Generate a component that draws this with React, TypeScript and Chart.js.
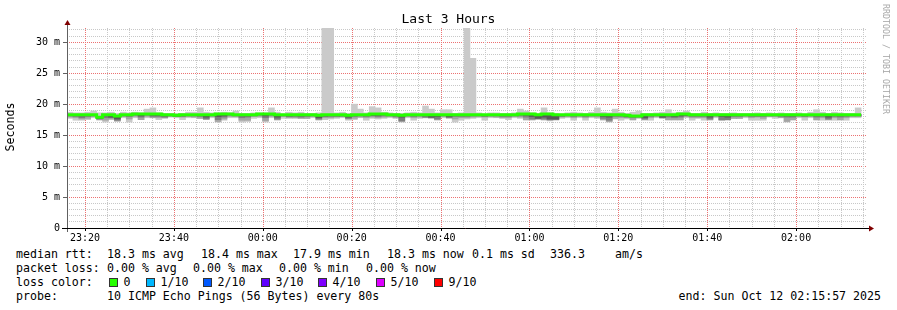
import React, { useEffect, useRef } from 'react';
import { Chart, registerables } from 'chart.js';

Chart.register(...registerables);

const FONT = '"DejaVu Sans Mono", "Liberation Mono", monospace';

// ---- time axis (seconds after graph start 23:15:57) ----
const graphSpanSeconds = 10800;
const stepSeconds = 80;
const firstGridSeconds = 243; // 23:20:00
const gridStepSeconds = 300; // 5 minutes
const labelEvery = 4; // label every 20 minutes
const xTickLabels = ['23:20', '23:40', '00:00', '00:20', '00:40', '01:00', '01:20', '01:40', '02:00'];

// ---- y axis ----
const yTickLabels = ['0', '5 m', '10 m', '15 m', '20 m', '25 m', '30 m'];
const yLabelStep = 5;

// ---- data (ms), one value per 80 s step ----
const rttMedian = [
  18.3, 18.3, 18.3, 18.3, 18.3, 17.9, 18.3, 18.3, 18.1, 18.3,
  18.3, 18.4, 18.4, 18.4, 18.4, 18.4, 18.3, 18.3, 18.2, 18.3,
  18.3, 18.3, 18.3, 18.3, 18.3, 18.4, 18.4, 18.4, 18.3, 18.3,
  18.3, 18.3, 18.4, 18.4, 18.4, 18.3, 18.3, 18.3, 18.3, 18.3,
  18.3, 18.3, 18.2, 18.3, 18.3, 18.3, 18.3, 18.2, 18.3, 18.3,
  18.3, 18.4, 18.4, 18.4, 18.3, 18.3, 18.2, 18.3, 18.3, 18.3,
  18.3, 18.3, 18.3, 18.3, 18.3, 18.3, 18.3, 18.3, 18.3, 18.3,
  18.3, 18.3, 18.3, 18.3, 18.3, 18.3, 18.4, 18.4, 18.4, 18.3,
  18.4, 18.4, 18.3, 18.3, 18.3, 18.3, 18.3, 18.3, 18.3, 18.3,
  18.3, 18.3, 18.3, 18.3, 18.2, 18.1, 18.1, 18.3, 18.3, 18.3,
  18.3, 18.3, 18.3, 18.4, 18.4, 18.3, 18.3, 18.3, 18.3, 18.3,
  18.3, 18.3, 18.3, 18.3, 18.3, 18.3, 18.3, 18.3, 18.3, 18.3,
  18.3, 18.3, 18.3, 18.3, 18.3, 18.3, 18.3, 18.3, 18.3, 18.3,
  18.3, 18.3, 18.3, 18.3,
];
const rttMax = [
  18.7, 18.6, 18.6, 18.7, 18.9, 18.6, 18.6, 18.7, 18.5, 18.7,
  18.6, 18.7, 18.6, 19.2, 19.4, 18.6, 18.5, 18.5, 18.5, 18.5,
  18.7, 18.7, 19.4, 18.7, 18.6, 18.6, 18.7, 18.6, 18.9, 18.5,
  18.5, 18.6, 18.6, 18.6, 19.4, 18.7, 18.4, 18.7, 18.6, 18.7,
  18.5, 18.5, 18.6, 32.3, 32.3, 18.6, 18.7, 18.5, 20.0, 19.2,
  18.6, 19.6, 19.4, 18.7, 18.6, 18.5, 18.5, 18.6, 18.7, 18.6,
  19.7, 19.2, 18.6, 19.1, 19.1, 18.5, 18.6, 32.3, 27.4, 18.6,
  18.4, 18.6, 18.6, 18.5, 18.5, 18.6, 19.2, 18.9, 18.6, 18.5,
  19.4, 18.6, 18.5, 18.4, 18.6, 18.7, 18.6, 18.5, 18.7, 19.4,
  18.7, 18.6, 19.2, 18.7, 18.5, 18.7, 18.9, 18.5, 18.5, 18.6,
  18.7, 19.1, 18.6, 18.7, 18.9, 18.5, 18.5, 18.7, 18.5, 18.6,
  18.5, 18.5, 18.6, 18.5, 18.5, 18.5, 18.6, 18.5, 18.6, 18.5,
  18.6, 18.5, 18.5, 18.6, 18.4, 18.7, 19.1, 18.7, 18.5, 18.7,
  18.6, 18.5, 18.5, 19.4,
];
const rttMin = [
  17.7, 17.4, 17.4, 17.5, 17.8, 17.4, 17.1, 17.5, 17.2, 17.8,
  17.1, 17.8, 17.5, 17.8, 17.8, 17.5, 17.7, 17.9, 17.8, 17.5,
  17.8, 17.8, 17.7, 17.5, 17.8, 17.1, 17.4, 17.8, 17.8, 17.1,
  17.2, 17.7, 17.8, 17.1, 17.8, 17.4, 17.7, 17.7, 17.7, 17.7,
  17.7, 17.8, 17.4, 17.5, 17.6, 17.7, 17.8, 17.4, 17.5, 17.8,
  17.4, 17.7, 17.6, 17.7, 17.8, 17.7, 17.1, 17.8, 17.4, 17.7,
  17.8, 17.7, 17.4, 17.8, 17.7, 17.1, 17.4, 17.6, 17.7, 17.8,
  17.4, 17.8, 17.8, 17.7, 17.5, 17.8, 17.7, 17.4, 17.4, 17.5,
  17.4, 17.3, 17.4, 17.7, 17.8, 17.4, 17.8, 17.4, 17.8, 17.7,
  17.4, 17.1, 17.6, 17.4, 17.6, 17.4, 17.7, 17.4, 17.4, 17.8,
  17.7, 17.4, 17.4, 17.4, 17.8, 17.4, 17.7, 17.4, 17.4, 17.8,
  17.4, 17.4, 17.7, 17.7, 17.8, 17.4, 17.4, 17.4, 17.9, 17.7,
  17.8, 17.1, 17.4, 17.8, 17.4, 17.8, 17.4, 17.4, 17.4, 17.4,
  17.4, 17.4, 17.8, 17.8,
];
const rttLow2 = [
  17.9, 17.8, 17.6, 17.7, 18.0, 17.5, 17.4, 17.6, 17.3, 18.0,
  17.6, 18.0, 17.5, 18.0, 17.8, 17.8, 17.8, 18.0, 18.0, 17.9,
  18.0, 17.9, 17.7, 17.6, 18.0, 17.2, 17.6, 18.0, 18.0, 17.4,
  17.4, 18.0, 18.0, 17.3, 18.0, 17.5, 18.0, 17.8, 17.8, 17.7,
  17.7, 18.0, 17.5, 17.8, 17.8, 17.9, 18.0, 17.6, 17.7, 17.9,
  17.8, 17.9, 17.8, 17.9, 18.0, 17.8, 17.2, 18.0, 17.8, 17.9,
  17.8, 17.8, 17.5, 18.0, 17.8, 17.6, 17.8, 17.8, 17.9, 18.0,
  17.9, 18.0, 17.9, 17.8, 17.8, 18.0, 17.9, 17.5, 17.5, 17.6,
  17.5, 17.4, 17.5, 17.9, 18.0, 17.8, 18.0, 17.8, 18.0, 17.9,
  17.5, 17.2, 17.7, 17.8, 17.8, 17.5, 17.8, 17.5, 17.8, 18.0,
  17.8, 17.5, 17.5, 17.5, 18.0, 17.8, 17.8, 17.8, 17.5, 18.0,
  17.4, 17.5, 17.7, 17.7, 18.0, 17.8, 17.9, 17.7, 18.0, 18.0,
  17.8, 17.2, 17.5, 18.0, 17.9, 18.0, 17.5, 17.8, 17.5, 17.8,
  17.5, 17.8, 18.0, 18.0,
];
const rttLow3 = [
  18.1, 18.0, 17.8, 18.0, 18.1, 17.6, 17.8, 17.8, 17.4, 18.1,
  18.0, 18.2, 17.9, 18.2, 18.0, 18.0, 17.9, 18.1, 18.0, 18.0,
  18.1, 18.1, 18.0, 17.6, 18.1, 17.5, 17.9, 18.2, 18.1, 17.8,
  17.9, 18.1, 18.2, 17.8, 18.2, 17.6, 18.1, 18.0, 18.0, 17.9,
  18.0, 18.1, 17.6, 18.0, 18.0, 18.0, 18.1, 17.7, 18.0, 18.1,
  18.0, 18.1, 18.0, 18.1, 18.1, 18.0, 17.3, 18.1, 18.0, 18.1,
  17.9, 17.8, 17.6, 18.1, 17.8, 18.0, 18.0, 18.0, 18.1, 18.1,
  18.0, 18.1, 18.1, 18.0, 18.0, 18.1, 18.1, 17.9, 17.6, 17.7,
  17.6, 17.5, 17.5, 18.0, 18.1, 18.0, 18.1, 18.0, 18.1, 18.1,
  17.7, 17.4, 18.0, 18.0, 17.9, 17.8, 17.9, 17.6, 18.0, 18.1,
  17.8, 17.9, 17.8, 17.9, 18.1, 18.0, 18.0, 18.0, 17.6, 18.1,
  17.5, 17.5, 18.0, 18.0, 18.1, 18.0, 18.0, 18.0, 18.1, 18.1,
  18.0, 17.9, 17.9, 18.1, 18.0, 18.1, 17.9, 18.0, 17.6, 18.0,
  17.9, 18.0, 18.1, 18.1,
];
const rttLow4 = [
  18.2, 18.2, 18.1, 18.2, 18.2, 17.7, 18.1, 17.9, 17.6, 18.2,
  18.2, 18.3, 18.1, 18.3, 18.2, 18.2, 18.1, 18.2, 18.1, 18.2,
  18.2, 18.2, 18.2, 17.9, 18.2, 18.0, 18.1, 18.3, 18.2, 18.1,
  18.1, 18.2, 18.3, 18.1, 18.3, 17.9, 18.2, 18.1, 18.2, 18.1,
  18.2, 18.2, 17.8, 18.1, 18.2, 18.2, 18.1, 17.9, 18.2, 18.2,
  18.2, 18.2, 18.2, 18.3, 18.2, 18.2, 17.9, 18.2, 18.2, 18.2,
  18.1, 17.9, 18.0, 18.2, 18.0, 18.2, 18.2, 18.2, 18.2, 18.2,
  18.2, 18.2, 18.2, 18.2, 18.2, 18.2, 18.3, 18.2, 18.0, 17.7,
  17.9, 17.6, 17.6, 18.2, 18.2, 18.2, 18.2, 18.2, 18.2, 18.2,
  18.0, 17.9, 18.2, 18.2, 18.0, 18.0, 18.0, 17.8, 18.2, 18.2,
  17.9, 18.1, 18.0, 18.1, 18.2, 18.2, 18.2, 18.2, 17.9, 18.2,
  18.0, 17.9, 18.2, 18.2, 18.2, 18.2, 18.2, 18.2, 18.2, 18.2,
  18.2, 18.1, 18.1, 18.2, 18.2, 18.2, 18.1, 18.2, 17.9, 18.2,
  18.1, 18.2, 18.2, 18.2,
];

// ---- legend ----
const lossLabels = ['0', '1/10', '2/10', '3/10', '4/10', '5/10', '9/10'];
const lossColors = ['#26ff00', '#00b8ff', '#0059ff', '#5e00ff', '#7e00ff', '#dd00ff', '#ff0000'];

const MAJOR_GRID = '#ec7272';
const MINOR_GRID = '#c8c8c8';
const ARROW = '#800000';

const isMajorX = (value: number) =>
  Math.round((value - firstGridSeconds) / gridStepSeconds) % labelEvery === 0;

const band = (lo: number[], hi: number[]) =>
  lo.map((v, i) => ({ x: i * stepSeconds + stepSeconds / 2, y: [v, hi[i]] }));

// vertical time grid, drawn from the x scale's own ticks
const rrdTimeGrid = {
  id: 'rrdTimeGrid',
  beforeDatasetsDraw(chart: any) {
    const { ctx, chartArea } = chart;
    const xs = chart.scales.x;
    ctx.save();
    ctx.lineWidth = 1;
    ctx.setLineDash([1, 1]);
    xs.ticks.forEach((t: any) => {
      const px = Math.round(xs.getPixelForValue(t.value)) + 0.5;
      ctx.strokeStyle = isMajorX(t.value) ? MAJOR_GRID : MINOR_GRID;
      ctx.beginPath();
      ctx.moveTo(px, chartArea.top);
      ctx.lineTo(px, chartArea.bottom);
      ctx.stroke();
    });
    ctx.restore();
  },
};

const rrdAxes = {
  id: 'rrdAxes',
  afterDatasetsDraw(chart: any) {
    const { ctx, chartArea } = chart;
    const { left, right, top, bottom } = chartArea;
    const xs = chart.scales.x;
    const ys = chart.scales.y;
    ctx.save();
    ctx.lineWidth = 1;
    // y axis
    ctx.strokeStyle = '#606060';
    ctx.beginPath();
    ctx.moveTo(left + 0.5, bottom + 4);
    ctx.lineTo(left + 0.5, top - 4);
    ctx.stroke();
    ys.ticks.forEach((t: any) => {
      if (t.value % yLabelStep === 0) {
        const py = Math.round(ys.getPixelForValue(t.value)) + 0.5;
        ctx.beginPath();
        ctx.moveTo(left - 4, py);
        ctx.lineTo(left, py);
        ctx.stroke();
      }
    });
    // x axis
    ctx.strokeStyle = '#000000';
    ctx.beginPath();
    ctx.moveTo(left - 5, bottom + 0.5);
    ctx.lineTo(right + 2, bottom + 0.5);
    ctx.stroke();
    xs.ticks.forEach((t: any) => {
      if (isMajorX(t.value)) {
        const px = Math.round(xs.getPixelForValue(t.value)) + 0.5;
        ctx.beginPath();
        ctx.moveTo(px, bottom);
        ctx.lineTo(px, bottom + 3);
        ctx.stroke();
      }
    });
    // arrows
    ctx.fillStyle = ARROW;
    ctx.beginPath();
    ctx.moveTo(left + 0.5, top - 8);
    ctx.lineTo(left + 3.5, top - 3);
    ctx.lineTo(left - 2.5, top - 3);
    ctx.closePath();
    ctx.fill();
    ctx.beginPath();
    ctx.moveTo(right + 7, bottom + 0.5);
    ctx.lineTo(right + 2, bottom - 2.5);
    ctx.lineTo(right + 2, bottom + 3.5);
    ctx.closePath();
    ctx.fill();
    ctx.restore();
  },
};

const Txt = ({ x, y, children, size = 11.6, color = '#000', align = 'left' }: any) => (
  <div
    style={{
      position: 'absolute',
      left: align === 'right' ? undefined : x,
      right: align === 'right' ? 897 - x : undefined,
      top: y - 7,
      height: 14,
      lineHeight: '14px',
      fontFamily: FONT,
      fontSize: size,
      color,
      whiteSpace: 'pre',
    }}
  >
    {children}
  </div>
);

export default function App() {
  const ref = useRef<HTMLCanvasElement | null>(null);

  useEffect(() => {
    if (!ref.current) return;
    const medianLine = rttMedian.map((v, i) => ({ x: i * stepSeconds, y: v }));
    medianLine.push({ x: rttMedian.length * stepSeconds, y: rttMedian[rttMedian.length - 1] });
    const barCommon = {
      type: 'bar' as const,
      grouped: false,
      barPercentage: 1,
      categoryPercentage: 1,
      borderWidth: 0,
    };
    const chart = new Chart(ref.current, {
      type: 'bar',
      data: {
        datasets: [
          { ...barCommon, label: 'ping 1-10', data: band(rttMin, rttMax) as any, backgroundColor: '#cacaca', order: 5 },
          { ...barCommon, label: 'ping 2', data: band(rttLow2, rttMedian) as any, backgroundColor: '#a4a4a4', order: 4 },
          { ...barCommon, label: 'ping 3', data: band(rttLow3, rttMedian) as any, backgroundColor: '#7e7e7e', order: 3 },
          { ...barCommon, label: 'ping 4', data: band(rttLow4, rttMedian) as any, backgroundColor: '#585858', order: 2 },
          {
            type: 'line' as const,
            label: 'median rtt',
            data: medianLine as any,
            borderColor: lossColors[0],
            borderWidth: 3,
            pointRadius: 0,
            stepped: true,
            borderCapStyle: 'butt',
            borderJoinStyle: 'miter',
            order: 1,
          } as any,
        ],
      },
      options: {
        animation: false,
        responsive: false,
        devicePixelRatio: 1,
        layout: { padding: { left: 0, top: 28, right: 30, bottom: 0 } },
        plugins: {
          legend: { display: false },
          title: { display: false },
          tooltip: { enabled: false },
        },
        scales: {
          x: {
            type: 'linear',
            min: 0,
            max: graphSpanSeconds,
            offset: false,
            grid: { display: false, offset: false, drawTicks: false },
            border: { display: false },
            ticks: {
              autoSkip: false,
              maxRotation: 0,
              padding: 4,
              color: '#000',
              font: { family: FONT, size: 10 },
              callback: (v: any) =>
                isMajorX(v) ? xTickLabels[Math.round((v - firstGridSeconds) / gridStepSeconds) / labelEvery] : '',
            },
            afterBuildTicks: (s: any) => {
              const t = [];
              for (let v = firstGridSeconds; v <= graphSpanSeconds; v += gridStepSeconds) t.push({ value: v });
              s.ticks = t;
            },
            afterFit: (s: any) => {
              s.height = 17;
              s.paddingLeft = 0;
              s.paddingRight = 0;
            },
          },
          y: {
            type: 'linear',
            min: 0,
            max: Math.max(...rttMax),
            grid: {
              drawTicks: false,
              lineWidth: 1,
              color: (c: any) => (c.tick && c.tick.value % yLabelStep === 0 ? MAJOR_GRID : MINOR_GRID),
            },
            border: { display: false, dash: [1, 1] },
            ticks: {
              autoSkip: false,
              padding: 7,
              color: '#000',
              font: { family: FONT, size: 10 },
              callback: (v: any) => (v % yLabelStep === 0 ? yTickLabels[v / yLabelStep] : ''),
            },
            afterBuildTicks: (s: any) => {
              const t = [];
              for (let v = 0; v <= Math.floor(s.max); v += 1) t.push({ value: v });
              s.ticks = t;
            },
            afterFit: (s: any) => {
              s.width = 67;
              s.paddingTop = 0;
              s.paddingBottom = 0;
            },
          },
        },
      } as any,
      plugins: [rrdTimeGrid, rrdAxes],
    });
    return () => chart.destroy();
  }, []);

  const squareX = [109, 146, 203, 261, 318, 376, 434];

  return (
    <div style={{ position: 'absolute', left: 0, top: 0, width: 897, height: 310, background: '#fff', overflow: 'hidden' }}>
      <canvas ref={ref} width={897} height={245} style={{ position: 'absolute', left: 0, top: 0, display: 'block' }} />
      <div
        style={{
          position: 'absolute',
          left: 0,
          width: 897,
          top: 11,
          textAlign: 'center',
          fontFamily: FONT,
          fontSize: 13,
          lineHeight: '16px',
          color: '#000',
        }}
      >
        Last 3 Hours
      </div>
      <div
        style={{
          position: 'absolute',
          left: 10 - 50,
          top: 127 - 7,
          width: 100,
          height: 14,
          lineHeight: '14px',
          textAlign: 'center',
          fontFamily: FONT,
          fontSize: 11.6,
          transform: 'rotate(-90deg)',
        }}
      >
        Seconds
      </div>
      <div
        style={{
          position: 'absolute',
          left: 886 - 70,
          top: 59 - 6,
          width: 140,
          height: 12,
          lineHeight: '12px',
          textAlign: 'center',
          fontFamily: FONT,
          fontSize: 8.3,
          color: '#a8a8a8',
          transform: 'rotate(90deg)',
          whiteSpace: 'pre',
        }}
      >
        RRDTOOL / TOBI OETIKER
      </div>

      <Txt x={16} y={254}>median rtt:</Txt>
      <Txt x={107} y={254}>18.3 ms avg</Txt>
      <Txt x={201} y={254}>18.4 ms max</Txt>
      <Txt x={293} y={254}>17.9 ms min</Txt>
      <Txt x={387} y={254}>18.3 ms now</Txt>
      <Txt x={472} y={254}>0.1 ms sd</Txt>
      <Txt x={550} y={254}>336.3</Txt>
      <Txt x={615} y={254}>am/s</Txt>

      <Txt x={16} y={268}>packet loss:</Txt>
      <Txt x={107} y={268}>0.00 % avg</Txt>
      <Txt x={193} y={268}>0.00 % max</Txt>
      <Txt x={279} y={268}>0.00 % min</Txt>
      <Txt x={366} y={268}>0.00 % now</Txt>

      <Txt x={16} y={282}>loss color:</Txt>
      {lossLabels.map((l, i) => (
        <React.Fragment key={l}>
          <div
            style={{
              position: 'absolute',
              left: squareX[i],
              top: 278,
              width: 9,
              height: 9,
              boxSizing: 'border-box',
              border: '1px solid #333',
              background: lossColors[i],
            }}
          />
          <Txt x={squareX[i] + 14.5} y={282}>{l}</Txt>
        </React.Fragment>
      ))}

      <Txt x={16} y={296}>probe:</Txt>
      <Txt x={107} y={296}>10 ICMP Echo Pings (56 Bytes) every 80s</Txt>
      <Txt x={881} y={296} align="right">end: Sun Oct 12 02:15:57 2025</Txt>
    </div>
  );
}
